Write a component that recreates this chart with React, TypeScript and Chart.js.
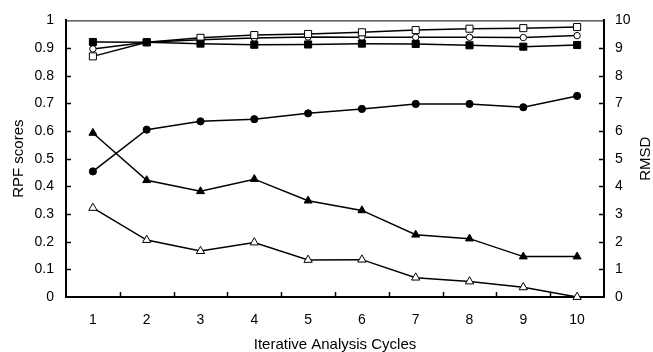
import { useEffect, useRef } from 'react';
import { Chart, registerables } from 'chart.js';

Chart.register(...registerables);

const cycles = ['1', '2', '3', '4', '5', '6', '7', '8', '9', '10'];
const rpfFilledSquare = [0.922, 0.921, 0.916, 0.912, 0.913, 0.916, 0.915, 0.91, 0.905, 0.911];
const rpfOpenSquare = [0.87, 0.921, 0.937, 0.947, 0.951, 0.957, 0.965, 0.97, 0.972, 0.976];
const rpfOpenCircle = [0.897, 0.921, 0.93, 0.936, 0.94, 0.939, 0.939, 0.939, 0.938, 0.945];
const rpfFilledCircle = [0.454, 0.605, 0.635, 0.643, 0.664, 0.68, 0.698, 0.698, 0.686, 0.727];
const rmsdFilledTriangle = [5.93, 4.22, 3.82, 4.26, 3.48, 3.13, 2.25, 2.11, 1.46, 1.46];
const rmsdOpenTriangle = [3.22, 2.06, 1.66, 1.97, 1.34, 1.35, 0.7, 0.56, 0.35, 0.0];

const FONT = "'Liberation Sans', Arial, Helvetica, sans-serif";

const framePlugin = {
  id: 'frame',
  afterDraw(chart: any) {
    const { ctx, chartArea: a, scales } = chart;
    const x = scales.x;
    const yl = scales.y;
    const yr = scales.y1;
    ctx.save();
    ctx.strokeStyle = '#000';
    ctx.lineWidth = 1;
    ctx.beginPath();
    ctx.moveTo(a.left, a.top + 0.5);
    ctx.lineTo(a.right, a.top + 0.5);
    ctx.stroke();
    ctx.lineWidth = 1.5;
    const n = x.ticks.length;
    ctx.beginPath();
    for (let i = 1; i < n; i++) {
      const px = Math.round(x.left + (x.width * i) / n) + 0.5;
      ctx.moveTo(px, a.bottom);
      ctx.lineTo(px, a.bottom - 5);
    }
    yl.ticks.forEach((t: any) => {
      const py = Math.round(yl.getPixelForValue(t.value)) + 0.5;
      if (py > a.top + 2 && py < a.bottom - 2) {
        ctx.moveTo(a.left, py);
        ctx.lineTo(a.left + 5, py);
      }
    });
    yr.ticks.forEach((t: any) => {
      const py = Math.round(yr.getPixelForValue(t.value)) + 0.5;
      if (py > a.top + 2 && py < a.bottom - 2) {
        ctx.moveTo(a.right - 5, py);
        ctx.lineTo(a.right, py);
      }
    });
    ctx.stroke();
    ctx.fillStyle = '#000';
    ctx.font = `15px ${FONT}`;
    ctx.textAlign = 'center';
    ctx.textBaseline = 'middle';
    ctx.translate(yr.right - 7, (a.top + a.bottom) / 2);
    ctx.rotate(-Math.PI / 2);
    ctx.fillText('RMSD', 0, 0);
    ctx.restore();
  },
};

export default function App() {
  const ref = useRef<HTMLCanvasElement>(null);
  useEffect(() => {
    document.body.style.margin = '0';
    const canvas = ref.current;
    if (!canvas) return;
    const base = {
      borderColor: '#000',
      borderWidth: 1.5,
      pointBorderColor: '#000',
      pointBorderWidth: 1,
      tension: 0,
      clip: false as any,
    };
    const tickFont = { size: 14, family: FONT };
    const chart = new Chart(canvas, {
      type: 'line',
      data: {
        labels: cycles,
        datasets: [
          { ...base, label: 'RPF filled square', data: rpfFilledSquare, yAxisID: 'y', pointStyle: 'rect', pointRadius: 5, pointBackgroundColor: '#000' },
          { ...base, label: 'RPF open square', data: rpfOpenSquare, yAxisID: 'y', pointStyle: 'rect', pointRadius: 5, pointBackgroundColor: '#fff' },
          { ...base, label: 'RPF open circle', data: rpfOpenCircle, yAxisID: 'y', pointStyle: 'circle', pointRadius: 3.2, pointBackgroundColor: '#fff' },
          { ...base, label: 'RPF filled circle', data: rpfFilledCircle, yAxisID: 'y', pointStyle: 'circle', pointRadius: 3.6, pointBackgroundColor: '#000' },
          { ...base, label: 'RMSD filled triangle', data: rmsdFilledTriangle, yAxisID: 'y1', pointStyle: 'triangle', pointRadius: 4.6, pointBackgroundColor: '#000' },
          { ...base, label: 'RMSD open triangle', data: rmsdOpenTriangle, yAxisID: 'y1', pointStyle: 'triangle', pointRadius: 4.8, pointBackgroundColor: '#fff' },
        ],
      },
      options: {
        responsive: false,
        animation: false,
        layout: { padding: { top: 17, left: 0, right: 0, bottom: 0 } },
        plugins: { legend: { display: false }, tooltip: { enabled: false } },
        scales: {
          x: {
            type: 'category',
            offset: true,
            grid: { display: false, drawTicks: false, offset: true },
            border: { display: true, color: '#000', width: 2 },
            ticks: { color: '#000', font: tickFont, padding: 15, maxRotation: 0, autoSkip: false },
            title: { display: true, text: 'Iterative Analysis Cycles', color: '#000', font: { size: 15, family: FONT, lineHeight: 1 }, padding: { top: 0, bottom: -0.5 } },
            afterFit: (s: any) => { s.height = 55; },
          },
          y: {
            position: 'left',
            min: 0,
            max: 1,
            grid: { display: false, drawTicks: false },
            border: { display: true, color: '#000', width: 2 },
            ticks: {
              stepSize: 0.1,
              color: '#000',
              font: tickFont,
              padding: 12,
              callback: (v: any) => String(Number(Number(v).toFixed(1))),
            },
            title: { display: true, text: 'RPF scores', color: '#000', font: { size: 15, family: FONT, lineHeight: 1 }, padding: { top: 11, bottom: 0 } },
            afterFit: (s: any) => { s.width = 66; },
          },
          y1: {
            position: 'right',
            min: 0,
            max: 10,
            grid: { display: false, drawTicks: false },
            border: { display: true, color: '#000', width: 2 },
            ticks: { stepSize: 1, color: '#000', font: tickFont, padding: 11 },
            afterFit: (s: any) => { s.width = 49; },
          },
        },
      },
      plugins: [framePlugin],
    });
    return () => chart.destroy();
  }, []);
  return <canvas ref={ref} width={653} height={352} style={{ display: 'block' }} />;
}
